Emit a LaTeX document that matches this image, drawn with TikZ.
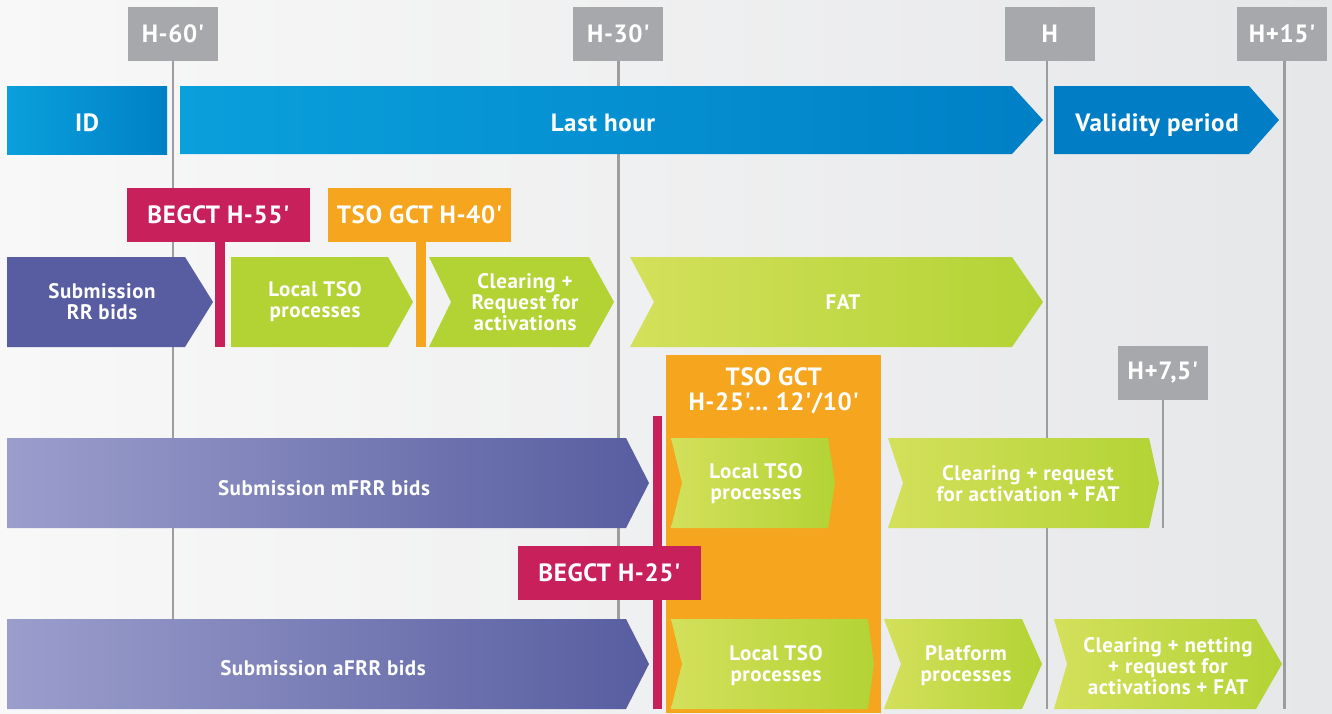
\documentclass[tikz,border=0pt]{standalone}
\usepackage{fontspec}
\newfontfamily\lblfont{PT Sans}[Ligatures=TeXOff,LetterSpace=2.5]
\usetikzlibrary{positioning}

\definecolor{bgleft}{HTML}{F8F8F8}
\definecolor{bgright}{HTML}{E6E7E9}
\definecolor{tickgrey}{HTML}{A7A8AB}
\definecolor{linegrey}{HTML}{9C9DA0}
\definecolor{blueleft}{HTML}{0AA0DC}
\definecolor{blueright}{HTML}{0080C6}
\definecolor{validblue}{HTML}{007DC5}
\definecolor{begctred}{HTML}{C8205B}
\definecolor{gctorange}{HTML}{F6A51F}
\definecolor{bidpurple}{HTML}{575DA0}
\definecolor{bidlight}{HTML}{9B9ECC}
\definecolor{procgreen}{HTML}{B3D335}
\definecolor{greenlight}{HTML}{D3E05B}

\begin{document}
\begin{tikzpicture}
    [x=1pt,y=-1pt,
     every node/.style={text=white,align=center,inner sep=0pt,
                        font=\lblfont\bfseries\fontsize{21}{21}\selectfont}]

    \tikzstyle{head}     = [font=\lblfont\bfseries\fontsize{25}{25}\selectfont]
    \tikzstyle{tick}     = [head,fill=tickgrey,minimum width=90,minimum height=54]
    \tikzstyle{tickline} = [draw=linegrey,line width=2.6pt]
    \tikzstyle{gate}     = [head,minimum width=183,minimum height=54]
    \tikzstyle{blue}     = [left color=blueleft,right color=blueright]
    \tikzstyle{bids}     = [left color=bidlight,right color=bidpurple]
    \tikzstyle{green}    = [fill=procgreen]
    \tikzstyle{fade}     = [left color=greenlight,right color=procgreen]

    % background and frame
    \shade [left color=bgleft,right color=bgright] (0,0) rectangle (1332,713);
    \useasboundingbox (0,0) rectangle (1332,713);
    \coordinate (base) at (0,709);

    % time marks
    \node [tick] (h60) at (173,34) {H-60'};
    \node [tick,right=355pt of h60] (h30) {H-30'};
    \node [tick,right=341pt of h30] (hh) {H};
    \node [tick,right=142pt of hh] (h15) {H+15'};
    \node [tick] (h75) at (1163,373) {H+7,5'};
    \coordinate (h75end) at (1163,528);

    \draw [tickline] (h60) -- (h60 |- base);
    \draw [tickline] (h30) -- (h30 |- base);
    \draw [tickline] ([xshift=-3pt]hh.south) -- ([xshift=-3pt]hh.south |- base);
    \draw [tickline] ([xshift=2pt]h15.south) -- ([xshift=2pt]h15.south |- base);
    \draw [tickline] (h75) -- (h75end);

    % market periods
    \path [blue] (7,86) rectangle (167,154);
    \path [blue] (180,86) -- (1012,86) -- (1043,120) -- (1012,154) -- (180,154) -- cycle;
    \fill [validblue] (1054,86) -- (1249,86) -- (1279,120) -- (1249,154) -- (1054,154) -- cycle;
    \node [head] (id) at (87,123) {ID};
    \node [head] (last) at (603,123) {Last hour};
    \node [head] (valid) at (1157,125) {Validity period};

    % RR
    \fill [bidpurple] (7,257) -- (185,257) -- (213,302) -- (185,347) -- (7,347) -- cycle;
    \path [green] (231,257) -- (388,257) -- (413,302) -- (388,347) -- (231,347) -- cycle;
    \path [green] (429,257) -- (589,257) -- (614,302) -- (589,347) -- (429,347) -- (451,302) -- cycle;
    \path [fade] (630,257) -- (1012,257) -- (1043,302) -- (1012,347) -- (630,347) -- (654,302) -- cycle;
    \node (rrsub) at (102,302) {Submission\\RR bids};
    \node (rrloc) at (315,302) {Local TSO\\processes};
    \node (rrclr) at (525,302) {Clearing +\\Request for\\activations};
    \node (rrfat) at (843,302) {FAT};

    \fill [begctred] (215,242) rectangle (225,347);
    \fill [gctorange] (416,242) rectangle (426,347);
    \node [gate,fill=begctred] (b55) at (218.5,215) {BEGCT H-55'};
    \node [gate,fill=gctorange] (g40) at (419.5,215) {TSO GCT H-40'};

    % TSO gate closure window
    \node [fill=gctorange,minimum width=215,minimum height=358,anchor=north west] (gct) at (666,355) {};
    \node [head,below=12pt of gct.north] (gcttxt) {TSO GCT\\H-25'… 12'/10'};

    % mFRR
    \path [bids] (7,438) -- (626,438) -- (649,483) -- (626,528) -- (7,528) -- cycle;
    \path [fade] (671,438) -- (828,438) -- (835,483) -- (828,528) -- (671,528) -- (682,483) -- cycle;
    \path [fade] (888,438) -- (1149,438) -- (1159,483) -- (1149,528) -- (888,528) -- (903,483) -- cycle;
    \node (msub) at (324,488) {Submission mFRR bids};
    \node (mloc) at (756,484) {Local TSO\\processes};
    \node (mclr) at (1028,484) {Clearing + request\\for activation + FAT};

    % aFRR
    \path [bids] (7,619) -- (626,619) -- (649,664) -- (626,709) -- (7,709) -- cycle;
    \path [fade] (671,619) -- (868,619) -- (874,664) -- (868,709) -- (671,709) -- (682,664) -- cycle;
    \path [fade] (884,619) -- (1022,619) -- (1042,664) -- (1022,709) -- (884,709) -- (901,664) -- cycle;
    \path [fade] (1054,619) -- (1256,619) -- (1282,664) -- (1256,709) -- (1054,709) -- (1067,664) -- cycle;
    \node (asub) at (323,668) {Submission aFRR bids};
    \node (aloc) at (776,666) {Local TSO\\processes};
    \node (aplat) at (966,666) {Platform\\processes};
    \node (aclr) at (1168,666) {Clearing + netting\\+ request for\\activations + FAT};

    \fill [begctred] (653,416) rectangle (662,709);
    \node [gate,fill=begctred] (b25) at (609.5,573) {BEGCT H-25'};
\end{tikzpicture}
\end{document}
